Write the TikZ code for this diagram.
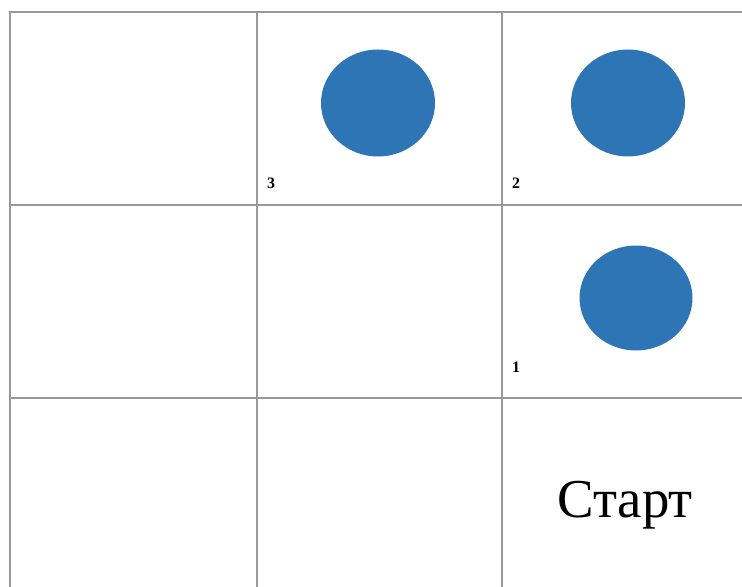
\documentclass[tikz,border=0pt]{standalone}
\usepackage{fontspec}
\setmainfont{Liberation Serif}
\usetikzlibrary{positioning, shapes.geometric}
\definecolor{ballblue}{HTML}{2E75B6}

\begin{document}
\begin{tikzpicture}[x=1bp, y=-1bp,
    gridline/.style={draw=gray!80, line width=1.4bp},
    ball/.style={ellipse, fill=ballblue, draw=none, minimum width=114bp, minimum height=107bp, inner sep=0pt},
    cellnum/.style={font=\fontsize{16}{16}\selectfont\bfseries, inner sep=0pt}]
    \useasboundingbox (0,0) rectangle (742,587);
    % grid
    \draw[gridline] (10,587) -- (10,12) -- (742,12);
    \draw[gridline] (257,12) -- (257,587);
    \draw[gridline] (502,12) -- (502,587);
    \draw[gridline] (10,205) -- (742,205);
    \draw[gridline] (10,398) -- (742,398);
    % balls
    \node[ball] (ballA) at (378,103) {};
    \node[ball] (ballB) at (628,103) {};
    \node[ball, minimum width=113bp, minimum height=105bp] (ballC) at (636,298) {};
    % numbers
    \node[cellnum] (num3) at (271,183) {3};
    \node[cellnum] (num2) at (516,183) {2};
    \node[cellnum] (num1) at (516,367) {1};
    \node[font=\fontsize{55}{55}\selectfont] (start) at (625,505) {Старт};
\end{tikzpicture}
\end{document}
